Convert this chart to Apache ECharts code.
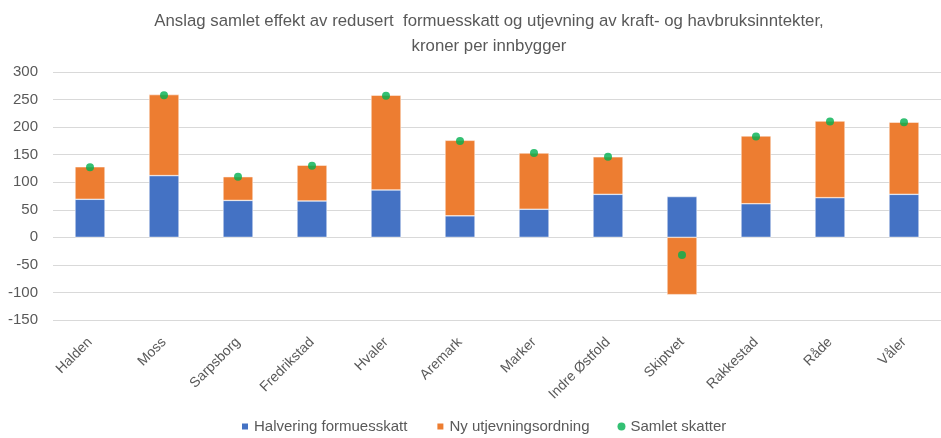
<!DOCTYPE html>
<html><head><meta charset="utf-8">
<script src="https://cdn.jsdelivr.net/npm/echarts@6/dist/echarts.min.js"></script>
<style>html,body{margin:0;padding:0;background:#fff}#c{width:941px;height:438px}</style>
</head><body><div id="c"></div>
<script>
const categories = ['Halden','Moss','Sarpsborg','Fredrikstad','Hvaler','Aremark','Marker','Indre Østfold','Skiptvet','Rakkestad','Råde','Våler'];
const halvering = [69, 112, 67, 66, 86, 39, 51, 78, 74, 61, 72, 78];
const utjevning = [59, 147, 43, 65, 172, 137, 102, 68, -104, 123, 139, 131];
const samlet = [127, 258, 110, 130, 257, 175, 153, 146, -32, 183, 210, 209];
const yTicks = [-150, -100, -50, 0, 50, 100, 150, 200, 250, 300];

const font = 'Liberation Sans';
const grey = '#595959';
const chart = echarts.init(document.getElementById('c'), null, {renderer: 'canvas'});
chart.setOption({
  animation: false,
  title: {
    text: 'Anslag samlet effekt av redusert  formuesskatt og utjevning av kraft- og havbruksinntekter,\nkroner per innbygger',
    left: 484, top: 4, textAlign: 'center',
    textStyle: {fontFamily: font, fontSize: 16.8, fontWeight: 'normal', color: grey, lineHeight: 25}
  },
  grid: {left: 53, top: 72, width: 898, height: 248, containLabel: false},
  legend: {
    top: 414, left: 235, itemWidth: 8, itemHeight: 8, itemGap: 28,
    textStyle: {fontFamily: font, fontSize: 15, color: grey},
    data: [
      {name: 'Halvering formuesskatt', icon: 'rect'},
      {name: 'Ny utjevningsordning', icon: 'rect'},
      {name: 'Samlet skatter', icon: 'circle'}
    ]
  },
  xAxis: {
    type: 'category', data: categories,
    axisLine: {show: false}, axisTick: {show: false},
    axisLabel: {rotate: 45, fontFamily: font, fontSize: 14, color: grey, interval: 0, margin: 20}
  },
  yAxis: {
    type: 'value', min: yTicks[0], max: yTicks[yTicks.length - 1], interval: 50,
    axisLine: {show: false}, axisTick: {show: false},
    axisLabel: {fontFamily: font, fontSize: 15, color: grey, margin: 15},
    splitLine: {lineStyle: {color: '#d9d9d9', width: 1}}
  },
  series: [
    {name: 'Halvering formuesskatt', type: 'bar', stack: 's', data: halvering, barWidth: 30,
     itemStyle: {color: '#4472C4', borderColor: '#ffffff', borderWidth: 0.5}},
    {name: 'Ny utjevningsordning', type: 'bar', stack: 's', data: utjevning, barWidth: 30,
     itemStyle: {color: '#ED7D31', borderColor: '#ffffff', borderWidth: 0.5}},
    {name: 'Samlet skatter', type: 'scatter', data: samlet, symbolSize: 8, z: 5,
     itemStyle: {color: '#00B050'}}
  ]
});
</script></body></html>
